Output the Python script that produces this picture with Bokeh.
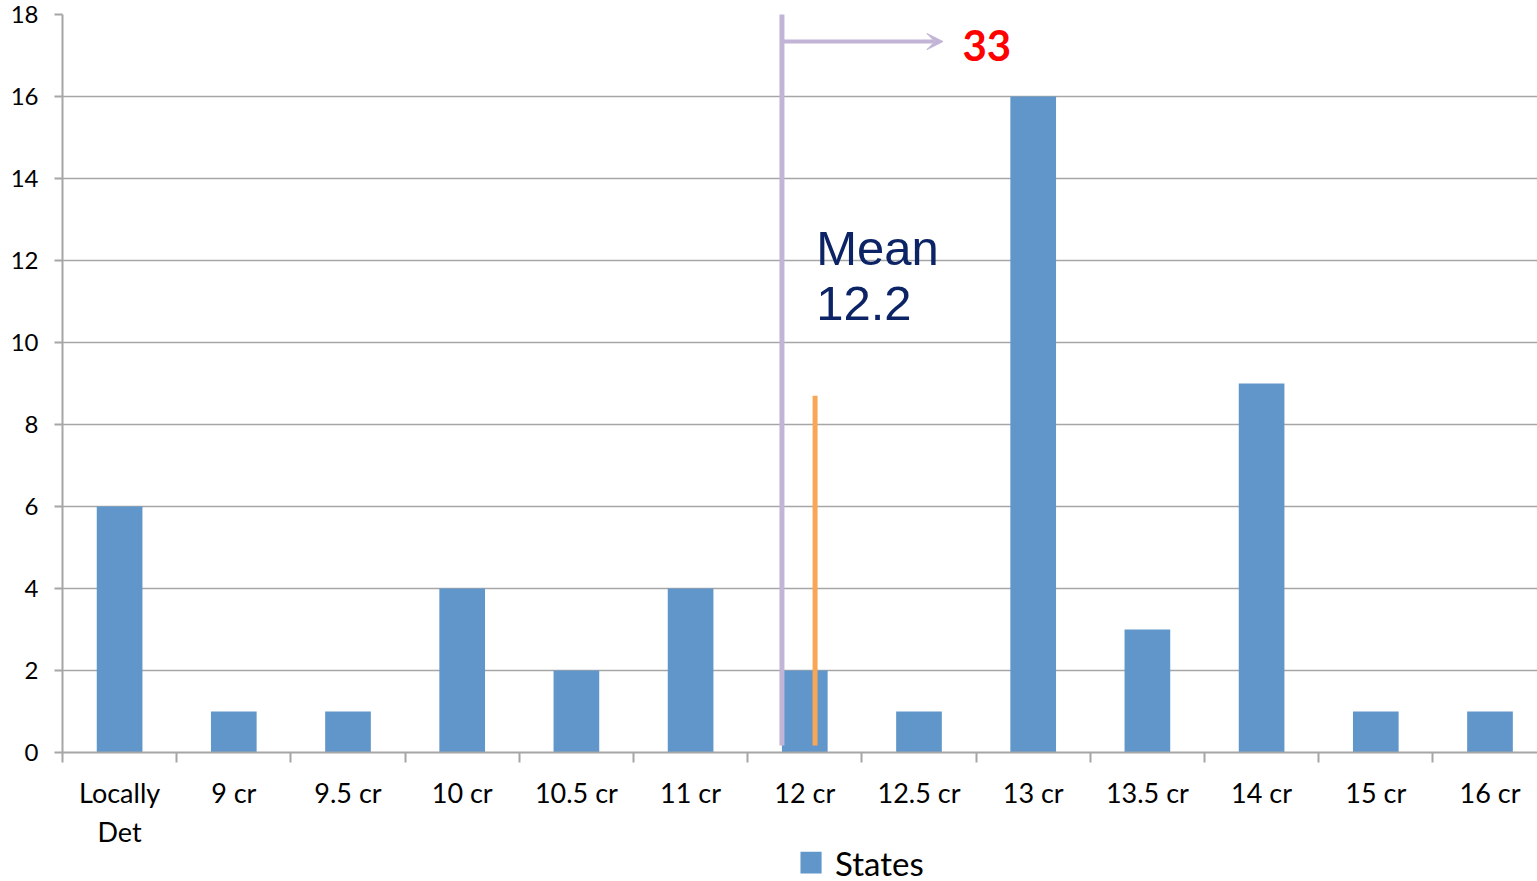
from bokeh.plotting import figure
from bokeh.layouts import column
from bokeh.models import (Range1d, FixedTicker, Arrow, VeeHead, ColumnDataSource)
from bokeh.core.properties import value
from bokeh.embed import file_html
from bokeh.resources import INLINE

categories = ["Locally\nDet", "9 cr", "9.5 cr", "10 cr", "10.5 cr", "11 cr", "12 cr",
              "12.5 cr", "13 cr", "13.5 cr", "14 cr", "15 cr", "16 cr"]
states = [6, 1, 1, 4, 2, 4, 2, 1, 16, 3, 9, 1, 1]
y_ticks = [0, 2, 4, 6, 8, 10, 12, 14, 16, 18]
series_name = "States"

mean_value_label = "Mean"
mean_value_text = "12.2"
above_count_text = "33"

FONT = "Lato"
GRID = "#a6a6a6"
BAR = "#6096ca"
PURPLE = "#c2b4d6"
ORANGE = "#f9a657"

centers = [i + 0.5 for i in range(len(categories))]
src = ColumnDataSource(dict(x=centers, top=states))

p = figure(frame_width=1475, frame_height=738, output_backend="svg", toolbar_location=None,
           x_range=Range1d(0, 12.916), y_range=Range1d(0, 18),
           min_border_left=62, min_border_right=0, min_border_top=14, min_border_bottom=40)
p.outline_line_color = None
p.background_fill_color = "white"

r = p.vbar(x="x", top="top", width=0.4, source=src, fill_color=BAR, line_color=None)

# grid
p.xgrid.visible = False
p.ygrid.ticker = FixedTicker(ticks=y_ticks)
p.ygrid.grid_line_color = GRID
p.ygrid.grid_line_width = 1.6

# y axis
ya = p.yaxis[0]
ya.ticker = FixedTicker(ticks=y_ticks)
ya.axis_line_color = GRID
ya.axis_line_width = 2
ya.major_tick_line_color = GRID
ya.major_tick_line_width = 2
ya.major_tick_out = 8
ya.major_tick_in = 0
ya.minor_tick_line_color = None
ya.major_label_text_font = FONT
ya.major_label_text_font_size = "24px"
ya.major_label_text_color = "black"
ya.major_label_standoff = 16

# x axis
xa = p.xaxis[0]
xa.ticker = FixedTicker(ticks=centers, minor_ticks=list(range(len(categories) + 1)))
xa.major_label_overrides = {c: lab for c, lab in zip(centers, categories)}
xa.axis_line_color = GRID
xa.axis_line_width = 2
xa.major_tick_line_color = None
xa.major_tick_out = 0
xa.major_tick_in = 0
xa.minor_tick_line_color = GRID
xa.minor_tick_line_width = 2
xa.minor_tick_out = 10
xa.minor_tick_in = 0
xa.major_label_text_font = FONT
xa.major_label_text_font_size = "27px"
xa.major_label_text_color = "black"
xa.major_label_standoff = 13

# mean markers
p.segment(x0=[6.30], y0=[0.17], x1=[6.30], y1=[18.2], line_color=PURPLE, line_width=5)
p.segment(x0=[6.59], y0=[0.17], x1=[6.59], y1=[8.7], line_color=ORANGE, line_width=5)
p.add_layout(Arrow(x_start=6.30, y_start=17.34, x_end=7.71, y_end=17.34,
                   line_color=PURPLE, line_width=4,
                   end=VeeHead(size=16, fill_color=PURPLE, line_color=PURPLE)))

p.text(x=[7.88], y=[17.25], text=[above_count_text], text_color="#ff0000",
       text_font=value(FONT), text_font_style="bold", text_font_size="42px",
       text_baseline="alphabetic", text_align="left")
p.text(x=[6.60, 6.60], y=[12.3, 10.95], text=[mean_value_label, mean_value_text],
       text_color="#0c2466", text_font=value("Liberation Sans"), text_font_size="49px",
       text_baseline="alphabetic", text_align="left")

# legend strip below the chart (pixel-scaled ranges)
lg = figure(width=1537, height=31, output_backend="svg", toolbar_location=None,
            x_range=Range1d(0, 1537), y_range=Range1d(0, 31),
            x_axis_type=None, y_axis_type=None,
            min_border_left=0, min_border_right=0, min_border_top=0, min_border_bottom=0)
lg.outline_line_color = None
lg.xgrid.visible = False
lg.ygrid.visible = False
lg.rect(x=[780], y=[20], width=22, height=22, fill_color=BAR, line_color=None)
lg.text(x=[805], y=[20], text=[series_name], text_color="black",
        text_font=value(FONT), text_font_size="33px",
        text_baseline="middle", text_align="left")

open("out.html", "w").write(file_html(column(p, lg, spacing=0), INLINE))
